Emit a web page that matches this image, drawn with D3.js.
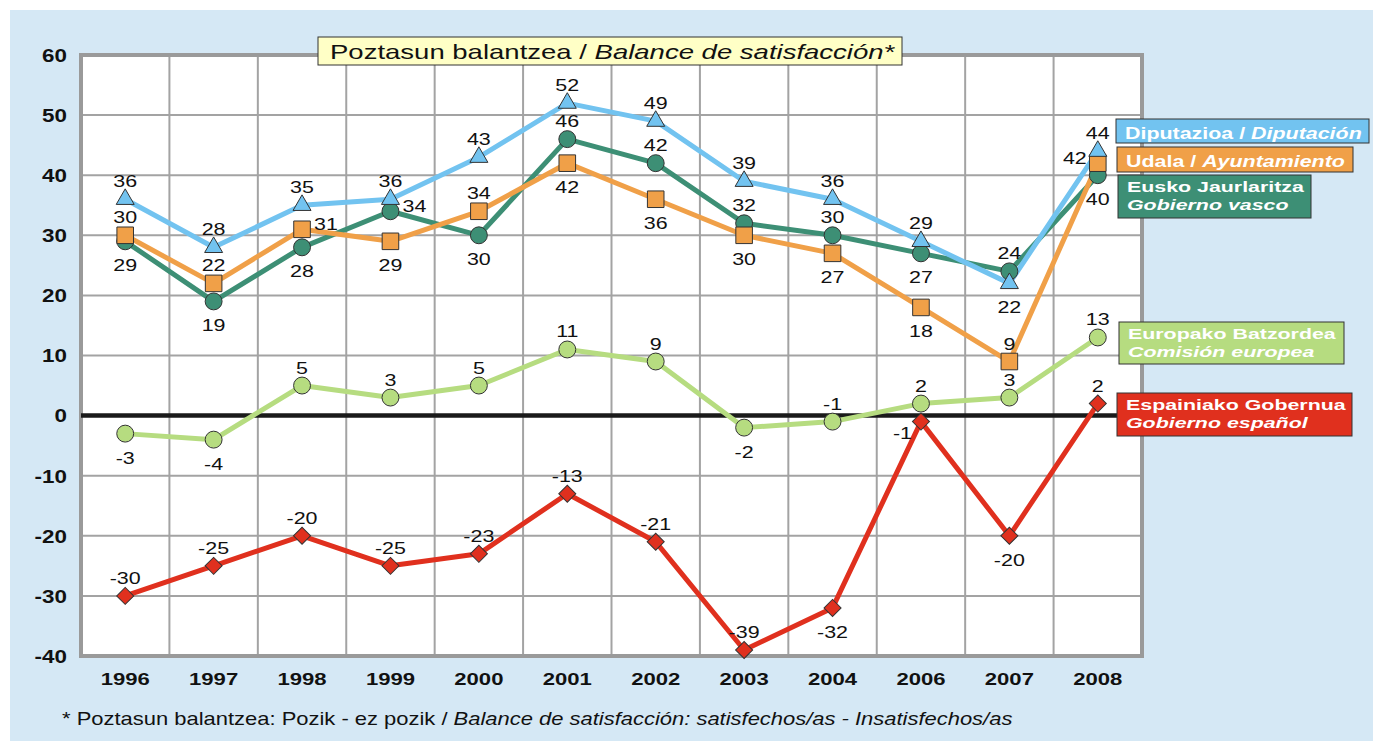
<!DOCTYPE html>
<html>
<head>
<meta charset="utf-8">
<script src="https://cdn.jsdelivr.net/npm/d3@7/dist/d3.min.js"></script>
<style>
  html, body { margin: 0; padding: 0; background: #ffffff; }
  svg { display: block; font-family: "Liberation Sans", Arial, sans-serif; }
</style>
</head>
<body>
<svg id="chart" width="1373" height="741"></svg>
<script>
// ---- Data ----
const years = ["1996","1997","1998","1999","2000","2001","2002","2003","2004","2006","2007","2008"];
const yTicks = [60, 50, 40, 30, 20, 10, 0, -10, -20, -30, -40];

const diputacion   = [36, 28, 35, 36, 43, 52, 49, 39, 36, 29, 22, 44];
const ayuntamiento = [30, 22, 31, 29, 34, 42, 36, 30, 27, 18, 9, 42];
const gobVasco     = [29, 19, 28, 34, 30, 46, 42, 32, 30, 27, 24, 40];
const comision     = [-3, -4, 5, 3, 5, 11, 9, -2, -1, 2, 3, 13];
const gobEspanol   = [-30, -25, -20, -25, -23, -13, -21, -39, -32, -1, -20, 2];

// label placements: t = top, b = bottom, r = right, l = left, bl = bottom-left
const posDiputacion   = ["t","t","t","t","t","t","t","t","t","t","b","t"];
const posAyuntamiento = ["t","t","r","b","t","b","b","b","b","b","t","l"];
const posGobVasco     = ["b","b","b","r","b","t","t","t","t","b","t","b"];
const posComision     = ["b","b","t","t","t","t","t","b","t","t","t","t"];
const posGobEspanol   = ["t","t","t","t","t","t","t","t","b","bl","b","t"];

(function () {
const SX = 1.3; // horizontal stretch of the original's lettering

const series = [
  { name1: "Eusko Jaurlaritza", name2: "Gobierno vasco", values: gobVasco, pos: posGobVasco,
    color: "#3d8f75", marker: "circle", legend: { x: 1118, y: 175, w: 193, h: 43 } },
  { name1: "Udala / ", name1i: "Ayuntamiento", values: ayuntamiento, pos: posAyuntamiento,
    color: "#f0a048", marker: "square", legend: { x: 1117, y: 147, w: 236, h: 25 } },
  { name1: "Diputazioa / ", name1i: "Diputación", values: diputacion, pos: posDiputacion,
    color: "#72c3f0", marker: "triangle", legend: { x: 1116, y: 119, w: 253, h: 24 } },
  { name1: "Europako Batzordea", name2: "Comisión europea", values: comision, pos: posComision,
    color: "#b6dc80", marker: "circle", legend: { x: 1119, y: 322, w: 225, h: 42 } },
  { name1: "Espainiako Gobernua", name2: "Gobierno español", values: gobEspanol, pos: posGobEspanol,
    color: "#e0301e", marker: "diamond", legend: { x: 1117, y: 393, w: 235, h: 43 } }
];

// stretched text helper
function stext(parent, x, y, anchor, size, sx) {
  const g = parent.append("g").attr("transform", `translate(${x},${y}) scale(${sx},1)`);
  return g.append("text").attr("x", 0).attr("y", 0).attr("text-anchor", anchor)
    .attr("font-size", size).attr("fill", "#111");
}

// ---- Layout ----
const svg = d3.select("#chart");
const pLeft = 81, pRight = 1142, pTop = 55, pBottom = 656;

svg.append("rect").attr("x", 10).attr("y", 10).attr("width", 1363).attr("height", 731)
  .attr("fill", "#d5e8f5");

const x = d3.scaleBand().domain(years).range([pLeft, pRight]).padding(0);
const y = d3.scaleLinear().domain([-40, 60]).range([pBottom, pTop]);
const cx = d => x(d) + x.bandwidth() / 2;

svg.append("rect").attr("x", pLeft).attr("y", pTop).attr("width", pRight - pLeft).attr("height", pBottom - pTop)
  .attr("fill", "#ffffff");

// grid
const grid = svg.append("g");
grid.selectAll("line.h").data(yTicks).join("line")
  .attr("x1", pLeft).attr("x2", pRight).attr("y1", d => y(d)).attr("y2", d => y(d))
  .attr("stroke", "#a3a3a3").attr("stroke-width", 2);
grid.selectAll("line.v").data(years.slice(1)).join("line")
  .attr("x1", d => x(d)).attr("x2", d => x(d)).attr("y1", pTop).attr("y2", pBottom)
  .attr("stroke", "#a3a3a3").attr("stroke-width", 2);

// border
svg.append("path")
  .attr("d", `M${pLeft},${pTop} L${pLeft},${pBottom} L${pRight},${pBottom} L${pRight},${pTop} Z`)
  .attr("fill", "none").attr("stroke", "#9a9a9a").attr("stroke-width", 4);

// zero line
svg.append("line").attr("x1", pLeft).attr("x2", pRight).attr("y1", y(0)).attr("y2", y(0))
  .attr("stroke", "#1a1a1a").attr("stroke-width", 4.5);

// axes
const yAxis = svg.append("g").attr("transform", `translate(${pLeft},0)`)
  .call(d3.axisLeft(y).tickValues(yTicks).tickFormat(d => String(d)).tickSize(0).tickPadding(11));
yAxis.select(".domain").remove();
yAxis.selectAll("text").attr("font-size", 17.5).attr("font-weight", "bold").attr("fill", "#111")
  .attr("font-family", "Liberation Sans, Arial, sans-serif")
  .attr("transform", "scale(1.28,1)").attr("dy", "0.36em");

const xAxis = svg.append("g").attr("transform", `translate(0,${pBottom})`)
  .call(d3.axisBottom(x).tickSize(0).tickPadding(17));
xAxis.select(".domain").remove();
xAxis.selectAll("text").attr("font-size", 17).attr("font-weight", "bold").attr("fill", "#111")
  .attr("font-family", "Liberation Sans, Arial, sans-serif")
  .attr("transform", "scale(1.3,1)");

// lines
const lineGen = d3.line().x((d, i) => cx(years[i])).y(d => y(d));
series.forEach(s => {
  svg.append("path").datum(s.values).attr("d", lineGen)
    .attr("fill", "none").attr("stroke", s.color).attr("stroke-width", 5)
    .attr("stroke-linejoin", "round");
});

// markers
const symbolMap = {
  circle: d3.symbol().type(d3.symbolCircle).size(225),
  square: d3.symbol().type(d3.symbolSquare).size(275),
  triangle: d3.symbol().type(d3.symbolTriangle).size(140),
  diamond: d3.symbol().type(d3.symbolSquare).size(145)
};
series.forEach(s => {
  svg.append("g").selectAll("path").data(s.values).join("path")
    .attr("d", symbolMap[s.marker]())
    .attr("transform", (d, i) => {
      let t = `translate(${cx(years[i])},${y(d)})`;
      if (s.marker === "diamond") t += " rotate(45)";
      return t;
    })
    .attr("fill", s.color).attr("stroke", "#333").attr("stroke-width", 1);
});

// data labels
series.forEach(s => {
  const g = svg.append("g");
  s.values.forEach((d, i) => {
    const px = cx(years[i]), py = y(d), p = s.pos[i];
    let t;
    if (p === "t") t = stext(g, px, py - 12, "middle", 16.5, SX);
    else if (p === "b") t = stext(g, px, py + 30, "middle", 16.5, SX);
    else if (p === "r") t = stext(g, px + 12, py + 1, "start", 16.5, SX);
    else if (p === "l") t = stext(g, px - 11, py + 1, "end", 16.5, SX);
    else t = stext(g, px - 9, py + 17, "end", 16.5, SX);
    t.text(String(d));
  });
});

// legend boxes
series.forEach(s => {
  const L = s.legend;
  const g = svg.append("g");
  g.append("rect").attr("x", L.x).attr("y", L.y).attr("width", L.w).attr("height", L.h)
    .attr("fill", s.color).attr("stroke", "#333").attr("stroke-width", 1);
  if (!s.name2) {
    const t1 = stext(g, L.x + 9, L.y + 19.5, "start", 17, 1.26)
      .attr("font-weight", "bold").attr("fill", "#ffffff");
    t1.append("tspan").text(s.name1);
    t1.append("tspan").attr("font-style", "italic").text(s.name1i);
  } else {
    stext(g, L.x + 9, L.y + 16.5, "start", 15.5, 1.38)
      .attr("font-weight", "bold").attr("fill", "#ffffff").text(s.name1);
    stext(g, L.x + 9, L.y + 34.5, "start", 15.5, 1.38)
      .attr("font-weight", "bold").attr("font-style", "italic").attr("fill", "#ffffff").text(s.name2);
  }
});

// title
const tg = svg.append("g");
tg.append("rect").attr("x", 318).attr("y", 37).attr("width", 584).attr("height", 28)
  .attr("fill", "#ffffc6").attr("stroke", "#333").attr("stroke-width", 1);
const tt = stext(tg, 330, 59, "start", 21, 1.31);
tt.append("tspan").text("Poztasun balantzea / ");
tt.append("tspan").attr("font-style", "italic").text("Balance de satisfacción*");

// footnote
const fn = stext(svg, 62, 725, "start", 17.5, 1.255);
fn.append("tspan").text("* Poztasun balantzea: Pozik - ez pozik / ");
fn.append("tspan").attr("font-style", "italic").text("Balance de satisfacción: satisfechos/as - Insatisfechos/as");
})();
</script>
</body>
</html>
